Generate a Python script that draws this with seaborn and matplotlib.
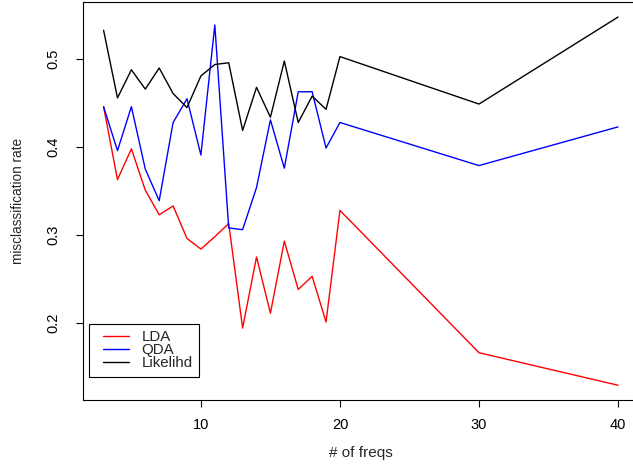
import matplotlib
matplotlib.use("Agg")
import matplotlib.pyplot as plt
from matplotlib.legend_handler import HandlerLine2D
import seaborn as sns
import pandas as pd

# number of frequencies used as features
freqs = [3, 4, 5, 6, 7, 8, 9, 10, 11, 12, 13, 14, 15, 16, 17, 18, 19, 20, 30, 40]

# misclassification rate per method
lda = [0.446, 0.363, 0.398, 0.351, 0.323, 0.333, 0.296, 0.284, 0.298, 0.313,
       0.194, 0.275, 0.211, 0.293, 0.238, 0.253, 0.201, 0.328, 0.166, 0.129]
qda = [0.446, 0.396, 0.446, 0.375, 0.339, 0.428, 0.455, 0.391, 0.539, 0.308,
       0.306, 0.354, 0.431, 0.376, 0.463, 0.463, 0.399, 0.428, 0.379, 0.423]
likelihd = [0.533, 0.456, 0.488, 0.466, 0.490, 0.461, 0.445, 0.481, 0.494, 0.496,
            0.419, 0.468, 0.434, 0.498, 0.428, 0.458, 0.443, 0.503, 0.449, 0.548]

methods = ["LDA", "QDA", "Likelihd"]
colors = {"LDA": "#ff0000", "QDA": "#0000ff", "Likelihd": "#000000"}

df = pd.DataFrame({
    "freqs": freqs * 3,
    "rate": lda + qda + likelihd,
    "method": ["LDA"] * len(freqs) + ["QDA"] * len(freqs) + ["Likelihd"] * len(freqs),
})

sns.set_style("white")
plt.rcParams["font.family"] = ["Liberation Sans", "DejaVu Sans"]

W, H = 633, 467
fig = plt.figure(figsize=(W / 100, H / 100), dpi=100)
left, right, top, bottom = 83, 638.6, 2.3, 400
ax = fig.add_axes([left / W, (H - bottom) / H, (right - left) / W, (bottom - top) / H])

sns.lineplot(data=df, x="freqs", y="rate", hue="method", hue_order=methods,
             palette=colors, linewidth=1.0, ax=ax, legend=False, sort=False)

ax.set_xlim(1.52, 41.48)
ax.set_ylim(0.1122, 0.5648)
ax.set_xticks([10, 20, 30, 40])
ax.set_yticks([0.2, 0.3, 0.4, 0.5])
ax.set_xticklabels(["10", "20", "30", "40"])
ax.set_yticklabels(["0.2", "0.3", "0.4", "0.5"], rotation=90, va="center")
ax.tick_params(axis="both", direction="out", length=5, width=0.8, color="black",
               labelsize=10.5, labelcolor="black", left=True, bottom=True)
ax.tick_params(axis="x", pad=8)
ax.tick_params(axis="y", pad=11)

for name, s in ax.spines.items():
    s.set_visible(name != "right")
    s.set_color("black")
    s.set_linewidth(0.8)

ax.set_xlabel("# of freqs", fontsize=11, labelpad=10)
ax.set_ylabel("misclassification rate", fontsize=9.8, labelpad=16)

handles = [plt.Line2D([], [], color=colors[m], linewidth=1.0) for m in methods]
leg = ax.legend(handles, methods, loc="lower left", bbox_to_anchor=(0.0108, 0.0586),
                borderaxespad=0, fancybox=False, framealpha=1, edgecolor="black",
                fontsize=10.8, handlelength=2.2, handletextpad=0.85, labelspacing=-0.08,
                borderpad=0.45,
                handler_map={plt.Line2D: HandlerLine2D(xpad=0.5)})
leg.get_frame().set_linewidth(0.8)

fig.savefig("out.png", dpi=100)
